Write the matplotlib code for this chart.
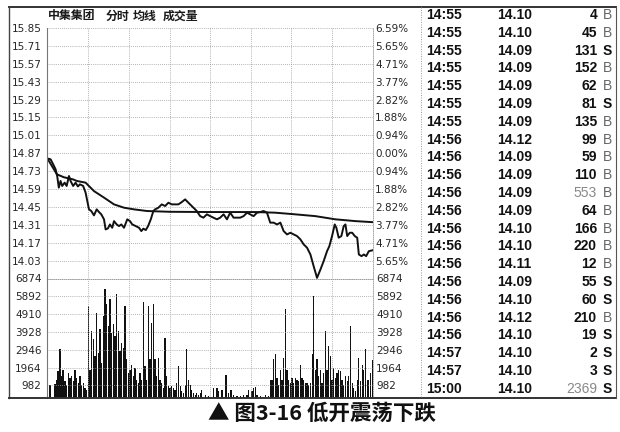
import matplotlib
matplotlib.use("Agg")
import matplotlib.pyplot as plt
from matplotlib.lines import Line2D

plt.rcParams['font.family'] = ['DejaVu Sans']

# ---------------- data ----------------
title_parts = ["中集集团", "分时", "均线", "成交量"]
caption = "▲ 图3-16 低开震荡下跌"

prev_close = 14.87
price_levels = [15.85, 15.71, 15.57, 15.43, 15.29, 15.15, 15.01, 14.87,
                14.73, 14.59, 14.45, 14.31, 14.17, 14.03]
pct_labels = ["6.59%", "5.65%", "4.71%", "3.77%", "2.82%", "1.88%", "0.94%", "0.00%",
              "0.94%", "1.88%", "2.82%", "3.77%", "4.71%", "5.65%"]
vol_levels = [6874, 5892, 4910, 3928, 2946, 1964, 982]

price_t = [0, 2, 3.9, 5.7, 6.9, 8.1, 9.4, 10.6, 12.4, 13.9, 15.6, 16.8, 18.7, 20.5,
           22.2, 23.7, 26.1, 27.9, 30.4, 32.1, 34.1, 36.1, 37.8, 39.5, 41.5, 42.7,
           44.4, 45.9, 47.6, 48.9, 50.9, 52.6, 54.3, 56.3, 58.7, 60.7, 62.4, 65,
           67.4, 69.1, 70.6, 72.4, 74.1, 76.1, 78, 79.3, 81.7, 84.2, 86.7, 89.1,
           91.6, 94.1, 96.5, 99, 101.5, 103.9, 106.4, 110.1, 112.6, 115, 117.6, 120,
           122.4, 125, 127.4, 129.9, 132.4, 134.8, 137.3, 139.8, 142.2, 144.7, 147.2,
           149.6, 152.1, 154.6, 157, 159.5, 162, 164.4, 166.9, 169.4, 171.9, 174.3,
           176.8, 179.3, 181.7, 184.2, 186.7, 189.1, 191.6, 194.1, 196.5, 199, 201.5,
           203.9, 206.4, 208.1, 210.1, 212.1, 213.3, 215, 217, 218.7, 220, 221.3,
           223.2, 225, 226.9, 228.7, 229.9, 231.9, 233.6, 235.3, 237.3, 239.8]
price_v = [14.828, 14.823, 14.784, 14.745, 14.692, 14.601, 14.653, 14.614, 14.640,
           14.614, 14.692, 14.653, 14.614, 14.640, 14.610, 14.627, 14.614, 14.562,
           14.431, 14.418, 14.384, 14.431, 14.410, 14.392, 14.353, 14.274, 14.282,
           14.313, 14.287, 14.339, 14.313, 14.300, 14.313, 14.287, 14.353, 14.339,
           14.313, 14.300, 14.287, 14.261, 14.280, 14.269, 14.300, 14.353, 14.418,
           14.431, 14.444, 14.470, 14.457, 14.483, 14.470, 14.470, 14.470, 14.488,
           14.509, 14.483, 14.457, 14.418, 14.378, 14.366, 14.392, 14.378, 14.366,
           14.353, 14.366, 14.392, 14.353, 14.405, 14.366, 14.366, 14.366, 14.378,
           14.405, 14.392, 14.378, 14.405, 14.410, 14.418, 14.405, 14.327, 14.327,
           14.313, 14.327, 14.261, 14.235, 14.248, 14.235, 14.222, 14.196, 14.157,
           14.131, 14.078, 13.986, 13.895, 13.960, 14.026, 14.104, 14.143, 14.222,
           14.313, 14.287, 14.209, 14.222, 14.300, 14.313, 14.222, 14.248, 14.248,
           14.222, 14.209, 14.078, 14.065, 14.078, 14.065, 14.104, 14.110]

avg_t = [0, 6.7, 11.9, 18.5, 21.5, 27.9, 34.1, 41.5, 48.9, 56.3, 63.7, 73.3, 90,
         120, 153.3, 168.1, 182.9, 197.8, 212.6, 227.4, 239.8]
avg_v = [14.823, 14.705, 14.682, 14.666, 14.653, 14.640, 14.574, 14.523, 14.470,
         14.444, 14.431, 14.418, 14.412, 14.410, 14.410, 14.405, 14.392, 14.378,
         14.353, 14.339, 14.331]

vol_t = [1.5, 5.2, 6.4, 7.6, 8.9, 10.1, 11.3, 12.6, 13.9, 15.0, 16.3, 17.6, 18.7, 20.0,
         21.3, 22.4, 23.7, 25.0, 26.1, 27.4, 28.7, 29.9, 31.1, 32.4, 33.6, 34.8, 36.1,
         37.3, 38.5, 39.8, 41.0, 42.2, 43.5, 44.7, 45.9, 47.2, 48.4, 49.6, 50.9, 52.1,
         53.3, 54.6, 55.8, 57.0, 58.3, 59.5, 60.7, 62.0, 63.2, 64.4, 65.7, 66.9, 68.1,
         69.4, 70.6, 71.8, 73.1, 74.3, 75.6, 76.8, 78.0, 79.3, 80.5, 81.7, 83.0, 84.2,
         85.4, 86.7, 87.9, 89.1, 90.4, 91.6, 92.8, 94.1, 95.3, 96.5, 97.8, 99.0, 100.2,
         101.5, 102.7, 103.9, 105.2, 106.4, 107.6, 108.9, 110.1, 111.3, 112.6, 113.8,
         116.3, 118.7, 122.4, 125.0, 126.1, 128.7, 131.8, 133.5, 135.3, 137.3, 139.8,
         142.2, 144.7, 147.2, 148.4, 150.9, 152.1, 153.3, 154.6, 157.0, 160.7, 163.2,
         164.4, 165.7, 166.9, 168.1, 169.4, 170.6, 171.9, 173.1, 174.3, 175.6, 176.8,
         178.0, 179.3, 180.5, 181.7, 183.0, 184.2, 185.4, 186.7, 187.9, 189.1, 190.4,
         191.6, 192.8, 194.1, 195.4, 196.5, 197.8, 199.0, 200.2, 201.5, 202.7, 203.9,
         205.2, 206.4, 207.6, 208.9, 210.1, 211.3, 212.6, 213.8, 215.0, 216.3, 217.5,
         218.7, 220.0, 221.3, 222.4, 223.7, 225.0, 226.2, 227.4, 228.7, 229.9, 231.1,
         232.4, 233.6, 234.8, 236.1, 237.3, 238.5, 239.8]
vol_v = [1021, 1076, 1298, 1759, 2963, 1481, 1853, 1204, 1021, 1670, 1393, 1481, 1204,
         1853, 1393, 1132, 1481, 1021, 1132, 854, 743, 5365, 1853, 3978, 3517, 2591,
         4999, 2780, 4072, 2225, 4810, 6291, 5459, 4255, 5737, 3889, 4350, 3700, 6013,
         3978, 2868, 3334, 3057, 5365, 2408, 1670, 1853, 2130, 1481, 1947, 1298, 1132,
         1670, 1298, 5553, 2036, 1298, 5365, 2408, 4444, 5459, 2408, 1481, 2502, 1298,
         1132, 854, 3612, 1481, 927, 854, 927, 854, 743, 1132, 2036, 927, 649, 560,
         1021, 2963, 1298, 1021, 743, 560, 466, 560, 466, 560, 743, 466, 410, 838, 838,
         649, 743, 1576, 560, 705, 466, 410, 410, 466, 466, 743, 649, 838, 893, 466,
         372, 466, 372, 1298, 1298, 2408, 2691, 1393, 1021, 1853, 1298, 2502, 5182,
         1853, 1298, 1132, 1393, 1132, 1393, 1298, 1204, 2130, 1393, 1298, 1132, 1132,
         1021, 1132, 2691, 5920, 1853, 2408, 1481, 1853, 1132, 1670, 3978, 1853, 3146,
         2591, 1298, 1947, 1393, 1670, 1853, 1759, 1298, 1021, 1481, 1204, 1481, 4255,
         1132, 854, 649, 1298, 2502, 1204, 2130, 1853, 2963, 1298, 1298, 1670, 2400]

tick_times = ["14:55"] * 7 + ["14:56"] * 12 + ["14:57"] * 2 + ["15:00"]
tick_prices = ["14.10", "14.10", "14.09", "14.09", "14.09", "14.09", "14.09", "14.12",
               "14.09", "14.09", "14.09", "14.09", "14.10", "14.10", "14.11", "14.09",
               "14.10", "14.12", "14.10", "14.10", "14.10", "14.10"]
tick_vols = ["4", "45", "131", "152", "62", "81", "135", "99", "59", "110", "553", "64",
             "166", "220", "12", "55", "60", "210", "19", "2", "3", "2369"]
tick_side = ["B", "B", "S", "B", "B", "S", "B", "B", "B", "B", "B", "B", "B", "B", "B",
             "S", "S", "B", "S", "S", "S", "S"]
big_trades = ["553", "2369"]

# ---------------- layout helpers ----------------
W, H = 620, 432
fig = plt.figure(figsize=(W / 100, H / 100), dpi=100)
fig.patch.set_facecolor("white")


def fx(px):
    return px / W


def fy(py):
    return 1 - py / H


def box(l, t, r, b):
    return [fx(l), fy(b), fx(r) - fx(l), fy(t) - fy(b)]


L, R = 46.5, 372.5
P_TOP, P_BOT, V_BOT = 28, 278.5, 398
grid_kw = dict(color="#9a9a9a", linestyle=(0, (1, 1.5)), linewidth=0.6)
lab_kw = dict(fontsize=7.5, color="#262626", family="DejaVu Sans")

# ---------------- price panel ----------------
axp = fig.add_axes(box(L, P_TOP, R, P_BOT))
axp.set_xlim(-1, 240)
axp.set_ylim(13.89, 15.85)
axp.plot(price_t, price_v, color="#111111", lw=1.4, solid_joinstyle="round")
axp.plot(avg_t, avg_v, color="#111111", lw=1.4)
axp.set_xticks([30, 60, 90, 120, 150, 180, 210])
axp.set_yticks(price_levels)
axp.set_yticklabels([f"{v:.2f}" for v in price_levels], **lab_kw)
axp.set_xticklabels([])
axp.tick_params(length=0, pad=3.5)
axp.grid(True, **grid_kw)
axr = axp.twinx()
axr.set_ylim(13.89, 15.85)
axr.set_yticks(price_levels)
axr.set_yticklabels(pct_labels, **lab_kw)
axr.tick_params(length=0, pad=2)

# ---------------- volume panel ----------------
axv = fig.add_axes(box(L, P_BOT, R, V_BOT))
axv.set_xlim(-1, 240)
axv.set_ylim(285, 6874)
axv.bar(vol_t, vol_v, width=0.95, color="#111111", linewidth=0)
axv.set_xticks([30, 60, 90, 120, 150, 180, 210])
axv.set_xticklabels([])
axv.set_yticks(vol_levels)
axv.set_yticklabels([str(v) for v in vol_levels], **lab_kw)
axv.tick_params(length=0, pad=3.5)
axv.grid(True, **grid_kw)
axvr = axv.twinx()
axvr.set_ylim(285, 6874)
axvr.set_yticks(vol_levels)
axvr.set_yticklabels([str(v) for v in vol_levels], **lab_kw)
axvr.tick_params(length=0, pad=2.5)

for a in (axp, axr, axv, axvr):
    for s in a.spines.values():
        s.set_visible(False)
    a.set_facecolor("none")
for a in (axp, axv):
    a.spines["left"].set_visible(True)
    a.spines["left"].set_color("#777777")
    a.spines["left"].set_linewidth(0.8)
    a.spines["right"].set_visible(True)
    a.spines["right"].set_color("#9a9a9a")
    a.spines["right"].set_linestyle((0, (1, 1.5)))
    a.spines["right"].set_linewidth(0.6)
axp.spines["bottom"].set_visible(True)
axp.spines["bottom"].set_color("#9a9a9a")
axp.spines["bottom"].set_linestyle((0, (1, 1.5)))
axp.spines["bottom"].set_linewidth(0.6)

# ---------------- frame lines ----------------
def fline(x0, y0, x1, y1, **kw):
    fig.add_artist(Line2D([fx(x0), fx(x1)], [fy(y0), fy(y1)], transform=fig.transFigure, **kw))

fline(9, 7, 616, 7, color="#333333", lw=1.4)
fline(9, 7, 9, 398, color="#444444", lw=1.0)
fline(9, 398, 616, 398, color="#333333", lw=1.4)
fline(616, 7, 616, 398, color="#555555", lw=0.8)
fline(421, 7, 421, 398, color="#999999", lw=0.7, linestyle=(0, (1, 1.5)))

# ---------------- title ----------------
cjk = ["Noto Sans CJK SC", "DejaVu Sans"]
for txt, x in zip(title_parts, [48, 106, 133, 163]):
    fig.text(fx(x), fy(16), txt, family=cjk, fontsize=8.6, fontweight="bold",
             color="#1a1a1a", ha="left", va="center")

# ---------------- trade table ----------------
tab_kw = dict(family="Liberation Sans", fontsize=10, fontweight="bold", va="center")
for i in range(len(tick_times)):
    y = fy(15 + i * 17.8)
    fig.text(fx(426), y, tick_times[i], ha="left", color="#111111", **tab_kw)
    fig.text(fx(497), y, tick_prices[i], ha="left", color="#111111", **tab_kw)
    if tick_vols[i] in big_trades:
        fig.text(fx(597), y, tick_vols[i], ha="right", color="#888888",
                 family="Liberation Sans", fontsize=10, va="center")
    else:
        fig.text(fx(597), y, tick_vols[i], ha="right", color="#111111", **tab_kw)
    if tick_side[i] == "B":
        fig.text(fx(607), y, "B", ha="center", color="#666666",
                 family="Liberation Sans", fontsize=10, va="center")
    else:
        fig.text(fx(607), y, "S", ha="center", color="#111111", **tab_kw)

# ---------------- caption ----------------
fig.text(fx(322), fy(413), caption, family=cjk, fontsize=15.5, fontweight="bold",
         color="#111111", ha="center", va="center")

fig.savefig("out.png", dpi=100, facecolor="white")
